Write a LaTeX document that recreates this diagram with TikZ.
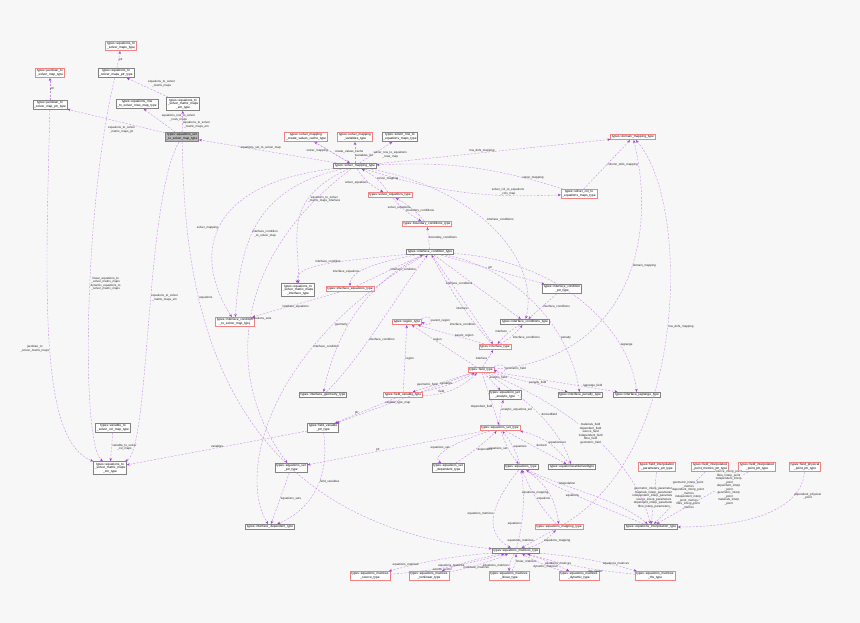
\documentclass[tikz,border=0pt]{standalone}
\usepackage{fontspec}
\setmainfont{Liberation Sans}
\usetikzlibrary{arrows.meta}
\definecolor{bg}{RGB}{247,247,247}
\definecolor{ec}{RGB}{200,140,235}
\definecolor{ah}{RGB}{160,60,210}
\definecolor{rb}{RGB}{240,130,130}
\definecolor{gb}{RGB}{130,130,130}
\tikzset{
 bx/.style={draw=gb,line width=0.7pt,fill=white,font=\fontsize{3.2}{3.7}\selectfont,inner sep=1.3pt,align=center},
 rbx/.style={bx,draw=rb},
 mbx/.style={bx,fill=gray!55},
 e/.style={draw=ec,dashed,dash pattern=on 2pt off 1.5pt,line width=0.4pt,-{Stealth[length=3pt,width=2.5pt,color=ah]}},
 lb/.style={font=\fontsize{3}{3.5}\selectfont,align=center,inner sep=0.5pt,text=black!85}
}
\begin{document}
\begin{tikzpicture}[x=1pt,y=-1pt]
\fill[bg] (0,0) rectangle (860,623);
\useasboundingbox (0,0) rectangle (860,623);
% nodes
\node[rbx] (eqmaps) at (121,46) {types::equations\_to\\\_solver\_maps\_type};
\node[rbx] (jacmap) at (50,73) {types::jacobian\_to\\\_solver\_map\_type};
\node[bx] (eqmapsp) at (116,73) {types::equations\_to\\\_solver\_maps\_ptr\_type};
\node[bx] (jacp) at (50,105) {types::jacobian\_to\\\_solver\_map\_ptr\_type};
\node[bx] (eqrow) at (137,104) {types::equations\_row\\\_to\_solver\_rows\_map\_type};
\node[bx] (eqem) at (183,104) {types::equations\_to\\\_solver\_matrix\_maps\\\_em\_type};
\node[mbx] (main) at (182,137) {types::equations\_set\\\_to\_solver\_map\_type};
\node[rbx] (smcvc) at (306,137) {types::solver\_mapping\\\_create\_values\_cache\_type};
\node[rbx] (smvar) at (355,137) {types::solver\_mapping\\\_variables\_type};
\node[bx] (srow) at (400,137) {types::solver\_row\_to\\\_equations\_maps\_type};
\node[rbx] (dom) at (633,137) {types::domain\_mapping\_type};
\node[bx] (smt) at (355,166) {types::solver\_mapping\_type};
\node[rbx] (scol) at (579,194) {types::solver\_col\_to\\\_equations\_maps\_type};
\node[rbx] (seq) at (390,195) {types::solver\_equations\_type};
\node[rbx] (bc) at (427,224) {types::boundary\_conditions\_type};
\node[bx] (ic) at (430,252) {types::interface\_condition\_type};
\node[bx] (eqsmi) at (298,290) {types::equations\_to\\\_solver\_matrix\_maps\\\_interface\_type};
\node[rbx] (iceq) at (350,289) {types::interface\_equations\_type};
\node[rbx] (icsm) at (235,322) {types::interface\_condition\\\_to\_solver\_map\_type};
\node[bx] (icp) at (562,289) {types::interface\_condition\\\_ptr\_type};
\node[rbx] (reg) at (407,322) {types::region\_type};
\node[bx] (ics) at (525,322) {types::interface\_conditions\_type};
\node[rbx] (ifc) at (495,347) {types::interface\_type};
\node[rbx] (fld) at (481,370) {types::field\_type};
\node[bx] (igeo) at (323,395) {types::interface\_geometry\_type};
\node[rbx] (fvar) at (403,395) {types::field\_variable\_type};
\node[bx] (esa) at (505,395) {types::equations\_set\\\_analytic\_type};
\node[bx] (ipen) at (580,395) {types::interface\_penalty\_type};
\node[bx] (ilag) at (637,395) {types::interface\_lagrange\_type};
\node[bx] (v2s) at (113,428) {types::variable\_to\\\_solver\_col\_map\_type};
\node[bx] (fvp) at (323,428) {types::field\_variable\\\_ptr\_type};
\node[rbx] (est) at (500,428) {types::equations\_set\_type};
\node[bx] (eqsm) at (110,468) {types::equations\_to\\\_solver\_matrix\_maps\\\_sm\_type};
\node[bx] (esp) at (291,468) {types::equations\_set\\\_ptr\_type};
\node[bx] (esd) at (448,468) {types::equations\_set\\\_dependent\_type};
\node[bx] (eqt) at (521,467) {types::equations\_type};
\node[bx] (eqd) at (572,467) {types::equationssetderivedtype};
\node[rbx] (fip) at (657,467) {types::field\_interpolation\\\_parameters\_ptr\_type};
\node[rbx] (fipm) at (710,467) {types::field\_interpolated\\\_point\_metrics\_ptr\_type};
\node[rbx] (fipp) at (757,467) {types::field\_interpolated\\\_point\_ptr\_type};
\node[rbx] (fpp) at (805,467) {types::field\_physical\\\_point\_ptr\_type};
\node[bx] (idep) at (270,527) {types::interface\_dependent\_type};
\node[rbx] (eqmap) at (559,527) {types::equations\_mapping\_type};
\node[bx] (eqint) at (651,527) {types::equations\_interpolation\_type};
\node[bx] (eqmat) at (516,551) {types::equations\_matrices\_type};
\node[rbx] (src) at (370,576) {types::equations\_matrices\\\_source\_type};
\node[rbx] (nl) at (429,576) {types::equations\_matrices\\\_nonlinear\_type};
\node[rbx] (lin) at (509,576) {types::equations\_matrices\\\_linear\_type};
\node[rbx] (dyn) at (579,576) {types::equations\_matrices\\\_dynamic\_type};
\node[rbx] (rhs) at (655,576) {types::equations\_matrices\\\_rhs\_type};
% edges
\draw[e] (eqmapsp) -- node[lb,right]{ptr} (eqmaps);
\draw[e] (jacp) -- node[lb,right]{ptr} (jacmap);
\draw[e] (main) -- node[lb,pos=0.3,below left]{equations\_to\_solver\\\_matrix\_maps\_jm} (jacp);
\draw[e] (main) -- node[lb,pos=0.45,above right]{equations\_row\_to\_solver\\\_rows\_maps} (eqrow);
\draw[e] (main) -- node[lb,pos=0.35,right]{equations\_to\_solver\\\_matrix\_maps\_em} (eqem);
\draw[e] (eqem) -- node[lb,above right]{equations\_to\_solver\\\_matrix\_maps} (eqmapsp);
\draw[e] (smt) -- node[lb,above,pos=0.55]{equations\_set\_to\_solver\_map} (main);
\draw[e] (smt) -- node[lb,left,pos=0.6]{solver\_mapping} (smcvc);
\draw[e] (smcvc) -- node[lb,right,pos=0.45,xshift=4pt]{create\_values\_cache} (smt);
\draw[e] (smt) -- node[lb,right,pos=0.35]{variables\_list} (smvar);
\draw[e] (smt) -- node[lb,right,pos=0.4]{solver\_row\_to\_equations\\\_rows\_map} (srow);
\draw[e] (smt) -- node[lb,above,pos=0.45]{row\_dofs\_mapping} (dom);
\draw[e] (smt) to[bend right=10] node[lb,above,pos=0.75]{solver\_col\_to\_equations\\\_cols\_map} (scol);
\draw[e] (scol) to[bend right=10] node[lb,above,pos=0.15]{solver\_mapping} (smt);
\draw[e] (scol) -- node[lb,right]{column\_dofs\_mapping} (dom);
\draw[e] (smt) to[bend right=15] node[lb,left]{solver\_equations} (seq);
\draw[e] (seq) to[bend right=15] node[lb,right]{solver\_mapping} (smt);
\draw[e] (seq) to[bend right=10] node[lb,right]{boundary\_conditions} (bc);
\draw[e] (bc) to[bend right=10] node[lb,left]{solver\_equations} (seq);
\draw[e] (ic) -- node[lb,right]{boundary\_conditions} (bc);
\draw[e] (smt) .. controls (480,190) and (540,260) .. node[lb,pos=0.45,above right]{interface\_conditions} (ics);
\draw[e] (smt) .. controls (280,200) and (300,240) .. node[lb,pos=0.3,right]{equations\_to\_solver\\\_matrix\_maps\_interface} (eqsmi);
\draw[e] (smt) .. controls (250,190) and (240,250) .. node[lb,pos=0.55,right]{interface\_condition\\\_to\_solver\_map} (icsm);
\draw[e] (smt) .. controls (200,185) and (195,260) .. node[lb,pos=0.5,left]{solver\_mapping} (icsm);
\draw[e] (ic) .. controls (330,262) and (295,265) .. node[lb,pos=0.45,above]{interface\_condition} (eqsmi);
\draw[e] (ic) .. controls (380,262) and (350,270) .. node[lb,pos=0.65,left]{interface\_equations} (iceq);
\draw[e] (iceq) .. controls (380,275) and (400,265) .. node[lb,pos=0.5,right]{interface\_condition} (ic);
\draw[e] (iceq) -- node[lb,pos=0.5,below]{interface\_equations} (icsm);
\draw[e] (ic) -- node[lb,above left]{ptr} (icp);
\draw[e] (ic) -- node[lb,pos=0.45,left]{interface\_conditions} (ics);
\draw[e] (icp) -- node[lb,right]{interface\_conditions} (ics);
\draw[e] (ic) -- node[lb,pos=0.6,left]{interface} (ifc);
\draw[e] (ics) to[bend right=10] node[lb,above left]{interface} (ifc);
\draw[e] (ifc) to[bend right=10] node[lb,below right]{interface\_conditions} (ics);
\draw[e] (ifc) .. controls (470,320) and (450,290) .. node[lb,pos=0.25,left]{interface\_condition} (ic);
\draw[e] (reg.north east) .. controls +(12,-8) and +(12,8) .. node[lb,right]{parent\_region} (reg.east);
\draw[e] (ifc) -- node[lb,above,pos=0.3]{parent\_region} (reg);
\draw[e] (fld) -- node[lb,above,pos=0.6]{region} (reg);
\draw[e] (fvar) -- node[lb,right,pos=0.5]{region} (reg);
\draw[e] (ic) .. controls (350,290) and (330,360) .. node[lb,pos=0.5,left]{geometry} (igeo);
\draw[e] (igeo) .. controls (360,360) and (400,290) .. node[lb,pos=0.4,right]{interface\_condition} (ic);
\draw[e] (fld) -- node[lb,left,pos=0.5]{interface} (ifc);
\draw[e] (fld.north east) .. controls +(14,-8) and +(14,8) .. node[lb,right]{geometric\_field} (fld.east);
\draw[e] (fld) -- node[lb,above,pos=0.75]{geometric\_field} (fvar);
\draw[e] (fvar) to[bend right=8] node[lb,above,pos=0.45]{variables} (fld);
\draw[e] (fvar) to[bend right=20] node[lb,above,pos=0.3]{field} (fld);
\draw[e] (fld) -- node[lb,right,pos=0.3]{analytic\_field} (esa);
\draw[e] (fld) -- node[lb,above,pos=0.6]{penalty\_field} (ipen);
\draw[e] (fld) -- node[lb,above,pos=0.8]{lagrange\_field} (ilag);
\draw[e] (ic) .. controls (520,270) and (570,330) .. node[lb,pos=0.7,right]{penalty} (ipen);
\draw[e] (ic) .. controls (560,260) and (630,330) .. node[lb,pos=0.75,right]{lagrange} (ilag);
\draw[e] (fld) -- node[lb,pos=0.55,below]{variable\_type\_map} (fvp);
\draw[e] (fvar) -- node[lb,left,pos=0.6]{ptr} (fvp);
\draw[e] (est) to[bend left=10] node[lb,right,pos=0.6]{analytic\_equations\_set} (esa);
\draw[e] (fld) -- node[lb,left,pos=0.65]{dependent\_field} (est);
\draw[e] (est) .. controls (460,440) and (430,455) .. node[lb,left]{equations\_set} (esd);
\draw[e] (esd) to[bend right=5] node[lb,below right,pos=0.5]{dependent} (est);
\draw[e] (est) to[bend right=10] node[lb,left]{equations\_set} (eqt);
\draw[e] (eqt) to[bend right=10] node[lb,right]{equations} (est);
\draw[e] (est) -- node[lb,above right]{derived} (eqd);
\draw[e] (eqd) to[bend right=20] node[lb,right]{equationsset} (est);
\draw[e] (fld) .. controls (530,400) and (560,430) .. node[lb,above right,pos=0.5]{derivedfield} (eqd);
\draw[e] (est) -- node[lb,above,pos=0.6]{ptr} (esp);
\draw[e] (fvp) -- node[lb,above,pos=0.5]{variables} (eqsm);
\draw[e] (v2s) -- node[lb,right]{variable\_to\_solver\\\_col\_maps} (eqsm);
\draw[e] (esp) -- node[lb,right]{equations\_sets} (idep);
\draw[e] (fvp) .. controls (330,480) and (310,510) .. node[lb,right,pos=0.4]{field\_variables} (idep);
\draw[e] (jacp) .. controls (45,300) and (40,440) .. node[lb,left,pos=0.5]{jacobian\_to\\\_solver\_matrix\_maps} (eqsm);
\draw[e] (eqmapsp) .. controls (85,200) and (80,440) .. node[lb,right,pos=0.45]{linear\_equations\_to\\\_solver\_matrix\_maps\\dynamic\_equations\_to\\\_solver\_matrix\_maps} (eqsm);
\draw[e] (main) .. controls (145,200) and (150,450) .. node[lb,right,pos=0.45]{equations\_to\_solver\\\_matrix\_maps\_sm} (eqsm);
\draw[e] (main) .. controls (185,250) and (190,520) .. node[lb,right,pos=0.35]{equations} (eqmat);
\draw[e] (ic) .. controls (260,350) and (240,480) .. node[lb,right,pos=0.3]{interface\_condition} (idep);
\draw[e] (smt) .. controls (230,260) and (225,380) .. node[lb,right,pos=0.5]{equations\_sets} (esp);
\draw[e] (eqmap) .. controls (690,450) and (690,200) .. node[lb,right,pos=0.5]{row\_dofs\_mapping} (dom);
\draw[e] (fld) .. controls (620,360) and (660,250) .. node[lb,right,pos=0.6]{domain\_mapping} (dom);
\draw[e] (eqt) to[bend left=25] node[lb,left]{equations\_mapping} (eqmap);
\draw[e] (eqmap) to[bend left=10] node[lb,right]{equations} (eqt);
\draw[e] (eqt) .. controls (570,490) and (620,500) .. node[lb,above,pos=0.3]{interpolation} (eqint);
\draw[e] (eqint) .. controls (610,510) and (560,490) .. node[lb,below,pos=0.6]{equations} (eqt);
\draw[e] (fip) -- node[lb,pos=0.5,fill=bg]{geometric\_interp\_parameters\\materials\_interp\_parameters\\independent\_interp\_parameters\\source\_interp\_parameters\\dependent\_interp\_parameters\\fibre\_interp\_parameters} (eqint);
\draw[e] (fipm) -- node[lb,pos=0.45,fill=bg,xshift=6pt]{geometric\_interp\_point\\\_metrics\\dependent\_interp\_point\\\_metrics\\independent\_interp\\\_point\_metrics\\fibre\_interp\_point\\\_metrics} (eqint);
\draw[e] (fipp) -- node[lb,pos=0.3,fill=bg,xshift=8pt]{source\_interp\_point\\fibre\_interp\_point\\independent\_interp\\\_point\\dependent\_interp\\\_point\\geometric\_interp\\\_point\\materials\_interp\\\_point} (eqint);
\draw[e] (fpp) .. controls (800,520) and (720,527) .. node[lb,pos=0.2,right]{dependent\_physical\\\_point} (eqint);
\draw[e] (fld) .. controls (600,420) and (640,480) .. node[lb,pos=0.4,fill=bg]{materials\_field\\dependent\_field\\source\_field\\independent\_field\\fibre\_field\\geometric\_field} (eqint);
\draw[e] (eqt) .. controls (495,500) and (480,530) .. node[lb,left,pos=0.5]{equations\_matrices} (eqmat);
\draw[e] (eqmat) to[bend right=10] node[lb,left,pos=0.3]{equations} (eqt);
\draw[e] (eqmap) -- node[lb,left,pos=0.6]{equations\_matrices} (eqmat);
\draw[e] (eqmat) to[bend right=15] node[lb,right]{equations\_mapping} (eqmap);
\draw[e] (eqmat) to[bend right=5] node[lb,above,pos=0.85]{equations\_matrices} (src);
\draw[e] (src) to[bend right=5] node[lb,below,pos=0.45]{source\_vector} (eqmat);
\draw[e] (eqmat) to[bend right=5] node[lb,above,pos=0.85]{equations\_matrices} (nl);
\draw[e] (nl) to[bend right=5] node[lb,below,pos=0.45]{nonlinear\_matrices} (eqmat);
\draw[e] (eqmat) to[bend right=15] node[lb,left,pos=0.7]{equations\_matrices} (lin);
\draw[e] (lin) to[bend right=15] node[lb,right,pos=0.6]{linear\_matrices} (eqmat);
\draw[e] (eqmat) to[bend left=5] node[lb,above,pos=0.75]{equations\_matrices} (dyn);
\draw[e] (dyn) to[bend left=5] node[lb,below,pos=0.4]{dynamic\_matrices} (eqmat);
\draw[e] (eqmat) to[bend left=5] node[lb,above,pos=0.8]{equations\_matrices} (rhs);
\draw[e] (rhs) to[bend left=5] node[lb,below,pos=0.35]{rhs\_vector} (eqmat);
\end{tikzpicture}
\end{document}
